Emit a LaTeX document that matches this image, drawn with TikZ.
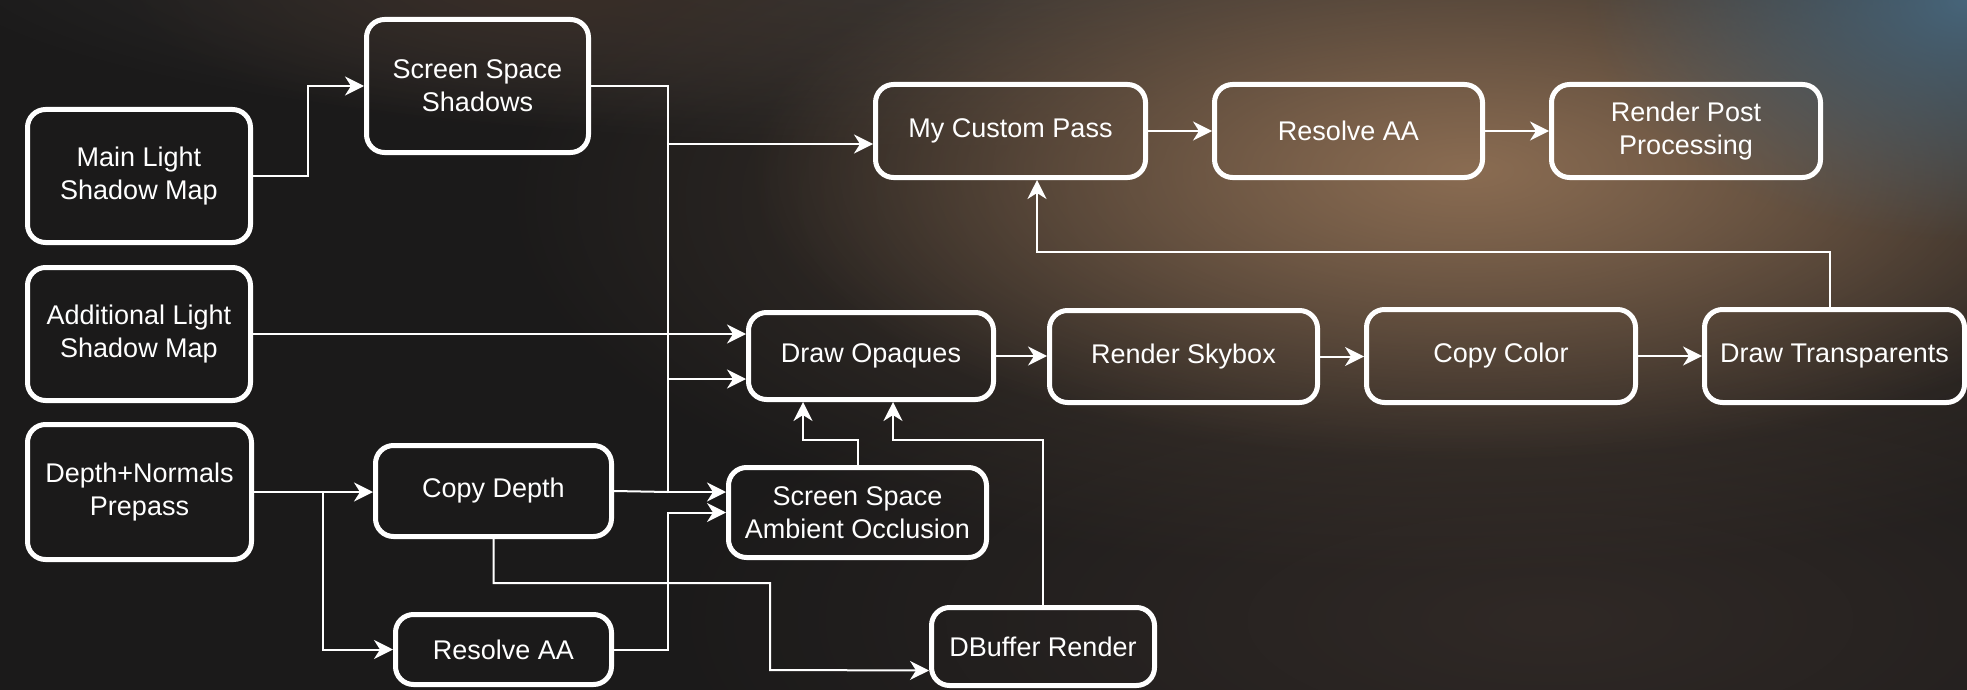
\documentclass[tikz,border=0pt]{standalone}
\usepackage{fontspec}
\setmainfont{Liberation Sans}
\usetikzlibrary{arrows.meta,fadings}
\definecolor{bgbase}{HTML}{1B1A1A}
\definecolor{glowA}{HTML}{8A6C52}
\definecolor{glowC}{HTML}{4A3D33}
\definecolor{topgray}{HTML}{3A3938}
\definecolor{cornerblue}{HTML}{47657A}
\definecolor{lowwarm}{HTML}{302926}
\definecolor{topwarm}{HTML}{3A2E27}
\tikzfading[name=glowfade, inner color=transparent!0, outer color=transparent!100]
\begin{document}
\begin{tikzpicture}[x=1pt,y=-1pt,
  box/.style={draw=white, line width=5pt, rounded corners=18pt, text=white,
    align=center, inner sep=0pt, font=\fontsize{27}{33}\selectfont},
  conn/.style={draw=white, line width=2pt,
    -{Stealth[length=19pt,width=19pt,inset=6pt]}},
  plain/.style={draw=white, line width=2pt}]
\useasboundingbox (0,0) rectangle (1967,690);
% background
\fill[bgbase] (0,0) rectangle (1967,690);
\fill[lowwarm, path fading=glowfade] (1550,620) ellipse [x radius=900, y radius=320];
\fill[topgray, path fading=glowfade] (1000,-40) ellipse [x radius=1100, y radius=190];
\fill[topwarm, path fading=glowfade] (560,-20) ellipse [x radius=450, y radius=150];
\fill[glowC, path fading=glowfade] (1450,200) ellipse [x radius=950, y radius=380];
\fill[glowA, path fading=glowfade] (1470,170) ellipse [x radius=720, y radius=290];
\fill[cornerblue, path fading=glowfade] (1967,0) ellipse [x radius=380, y radius=240];

% nodes
\node[box, minimum width=223pt, minimum height=133pt] (ml) at (139,176) {Main Light\\Shadow Map};
\node[box, minimum width=222pt, minimum height=133pt] (sss) at (477.5,86) {Screen Space\\Shadows};
\node[box, minimum width=223pt, minimum height=133pt] (al) at (139,334) {Additional Light\\Shadow Map};
\node[box, minimum width=224pt, minimum height=135pt] (dnp) at (139.5,492) {Depth+Normals\\Prepass};
\node[box, minimum width=236pt, minimum height=91pt] (cd) at (493.5,491) {Copy Depth};
\node[box, minimum width=216pt, minimum height=70pt] (rab) at (503.5,649.5) {Resolve AA};
\node[box, minimum width=258pt, minimum height=90pt] (ssao) at (857.5,512.5) {Screen Space\\Ambient Occlusion};
\node[box, minimum width=223pt, minimum height=78pt] (dbr) at (1043,646.5) {DBuffer Render};
\node[box, minimum width=245pt, minimum height=87pt] (dop) at (871,356) {Draw Opaques};
\node[box, minimum width=268pt, minimum height=92pt] (rs) at (1183.5,356.5) {Render Skybox};
\node[box, minimum width=269pt, minimum height=93pt] (cc) at (1501,356) {Copy Color};
\node[box, minimum width=260pt, minimum height=93pt] (dt) at (1834.5,356) {Draw Transparents};
\node[box, minimum width=270pt, minimum height=93pt] (mcp) at (1010.5,131) {My Custom Pass};
\node[box, minimum width=268pt, minimum height=93pt] (rat) at (1348.5,131) {Resolve AA};
\node[box, minimum width=269pt, minimum height=93pt] (rpp) at (1686,131) {Render Post\\Processing};

% connectors
\draw[conn] (ml.east) -- (308,176) |- (sss.west);
\draw[conn] (sss.east) -| (668,144) -- ([yshift=-13pt]mcp.west);
\draw[conn] (668,144) |- ([yshift=-23pt]dop.west);
\draw[conn] (668,379) -- (668,492) -- ([yshift=20.5pt]ssao.west);
\draw[conn] (al.east) -- (al.east -| dop.west);
\draw[conn] (dnp.east) -- (dnp.east -| cd.west);
\draw[conn] (323,492) |- (rab.west);
\draw[plain] (cd.east) -- (668,492);
\draw[conn] (cd.south) -- (493.5,583) -| (770,670) -- ([yshift=-24pt]dbr.west);
\draw[conn] (rab.east) -| (668,512.5) -- (ssao.west);
\draw[conn] (ssao.north) -- (857.5,440) -| ([xshift=-68pt]dop.south);
\draw[conn] (dbr.north) -- (1043,440) -| ([xshift=22pt]dop.south);
\draw[conn] (dop.east) -- (dop.east -| rs.west);
\draw[conn] (rs.east) -- (rs.east -| cc.west);
\draw[conn] (cc.east) -- (dt.west);
\draw[conn] ([xshift=-4.5pt]dt.north) -- (1830,252) -| ([xshift=26.5pt]mcp.south);
\draw[conn] (mcp.east) -- (rat.west);
\draw[conn] (rat.east) -- (rpp.west);
\end{tikzpicture}
\end{document}
